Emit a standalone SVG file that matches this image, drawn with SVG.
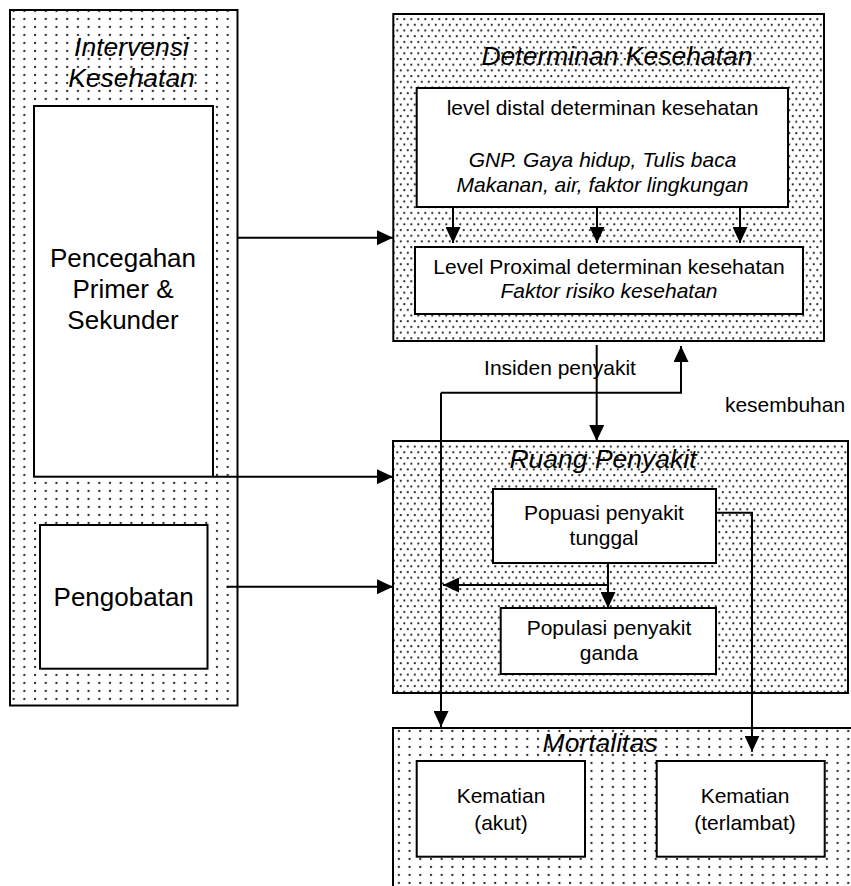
<svg xmlns="http://www.w3.org/2000/svg" width="851" height="886" viewBox="0 0 851 886">
  <style>
    .box { stroke: #000; stroke-width: 2; }
    .inner { fill: #fff; stroke: #000; stroke-width: 2; }
    .dense { fill: url(#denseDots); }
    .sparse { fill: url(#sparseDots); }
    text { font-family: "Liberation Sans", Arial, sans-serif; fill: #000; }
    .title { font-size: 26.5px; font-style: italic; text-anchor: middle; }
    .body { font-size: 21px; text-anchor: middle; }
    .big { font-size: 26px; text-anchor: middle; }
    .it { font-style: italic; }
    .conn { fill: none; stroke: #000; stroke-width: 2; marker-end: url(#arrow); }
  </style>
  <defs>
    <pattern id="denseDots" patternUnits="userSpaceOnUse" width="7" height="11.4">
      <rect width="7" height="11.4" fill="#fff"/>
      <circle cx="1.8" cy="2" r="1.15" fill="#2a2a2a"/>
      <circle cx="5.3" cy="7.7" r="1.15" fill="#2a2a2a"/>
    </pattern>
    <pattern id="sparseDots" patternUnits="userSpaceOnUse" width="10.7" height="8">
      <rect width="10.7" height="8" fill="#fff"/>
      <circle cx="3" cy="3" r="1.15" fill="#2a2a2a"/>
    </pattern>
    <marker id="arrow" markerUnits="userSpaceOnUse" markerWidth="16" markerHeight="15" refX="16" refY="7.5" orient="auto">
      <path d="M0,0 L16,7.5 L0,15 z" fill="#000"/>
    </marker>
  </defs>

  <!-- Health interventions column -->
  <g id="intervensi">
    <rect class="box sparse" x="10" y="10" width="227.5" height="695.5"/>
    <text class="title" x="131.5" y="56" font-size="27">Intervensi</text>
    <text class="title" x="131.5" y="86.7" font-size="27">Kesehatan</text>
  </g>
  <g id="pencegahan">
    <rect class="inner" x="34" y="106" width="179" height="370.7"/>
    <text class="big" x="123" y="266.7">Pencegahan</text>
    <text class="big" x="123" y="298.3">Primer &amp;</text>
    <text class="big" x="123" y="329.3">Sekunder</text>
  </g>
  <g id="pengobatan">
    <rect class="inner" x="40" y="525" width="167.5" height="143.7"/>
    <text class="big" x="123.7" y="606">Pengobatan</text>
  </g>

  <!-- Health determinants -->
  <g id="determinan">
    <rect class="box dense" x="393.3" y="14" width="430.7" height="327"/>
    <text class="title" x="617" y="65">Determinan Kesehatan</text>
  </g>
  <g id="distal">
    <rect class="inner" x="416.7" y="88" width="371.3" height="119"/>
    <text class="body" x="602.5" y="115">level distal determinan kesehatan</text>
    <text class="body it" x="602.5" y="167">GNP. Gaya hidup, Tulis baca</text>
    <text class="body it" x="602.5" y="192">Makanan, air, faktor lingkungan</text>
  </g>
  <g id="proximal">
    <rect class="inner" x="415" y="247" width="388" height="67"/>
    <text class="body" x="609" y="274">Level Proximal determinan kesehatan</text>
    <text class="body it" x="609" y="298">Faktor risiko kesehatan</text>
  </g>

  <!-- Disease space -->
  <g id="ruang">
    <rect class="box dense" x="393" y="441" width="455" height="252"/>
    <text class="title" x="603" y="468">Ruang Penyakit</text>
  </g>
  <g id="tunggal">
    <rect class="inner" x="493" y="489" width="223" height="74"/>
    <text class="body" x="604" y="520">Popuasi penyakit</text>
    <text class="body" x="604" y="545">tunggal</text>
  </g>
  <g id="ganda">
    <rect class="inner" x="500.7" y="608" width="215.3" height="66"/>
    <text class="body" x="609" y="635">Populasi penyakit</text>
    <text class="body" x="609" y="660">ganda</text>
  </g>

  <!-- Mortality -->
  <g id="mortalitas">
    <rect class="box sparse" x="393" y="728" width="470" height="170"/>
    <text class="title" x="600" y="751.7">Mortalitas</text>
  </g>
  <g id="akut">
    <rect class="inner" x="416.7" y="761" width="168.3" height="95.7"/>
    <text class="body" x="501" y="803">Kematian</text>
    <text class="body" x="501" y="830">(akut)</text>
  </g>
  <g id="terlambat">
    <rect class="inner" x="656.7" y="761" width="168" height="95.7"/>
    <text class="body" x="745" y="803">Kematian</text>
    <text class="body" x="745" y="830">(terlambat)</text>
  </g>

  <!-- Connectors -->
  <g id="connectors">
    <path class="conn" d="M237.7,237.7 H393"/>
    <path class="conn" d="M213,476.7 H393"/>
    <path class="conn" d="M226.7,586.7 H393"/>
    <path class="conn" d="M453,207 V243"/>
    <path class="conn" d="M597,207 V243"/>
    <path class="conn" d="M740,207 V243"/>
    <path class="conn" d="M596.7,345 V441"/>
    <path class="conn" d="M441,392.7 H681 V346"/>
    <path class="conn" d="M441,392.7 V727"/>
    <path class="conn" d="M608,563 V608"/>
    <path class="conn" d="M608,585 H443"/>
    <path class="conn" d="M716,512.7 H752 V751.7"/>
    <text class="body" x="560" y="375">Insiden penyakit</text>
    <text class="body" x="785" y="411.7">kesembuhan</text>
  </g>
</svg>
